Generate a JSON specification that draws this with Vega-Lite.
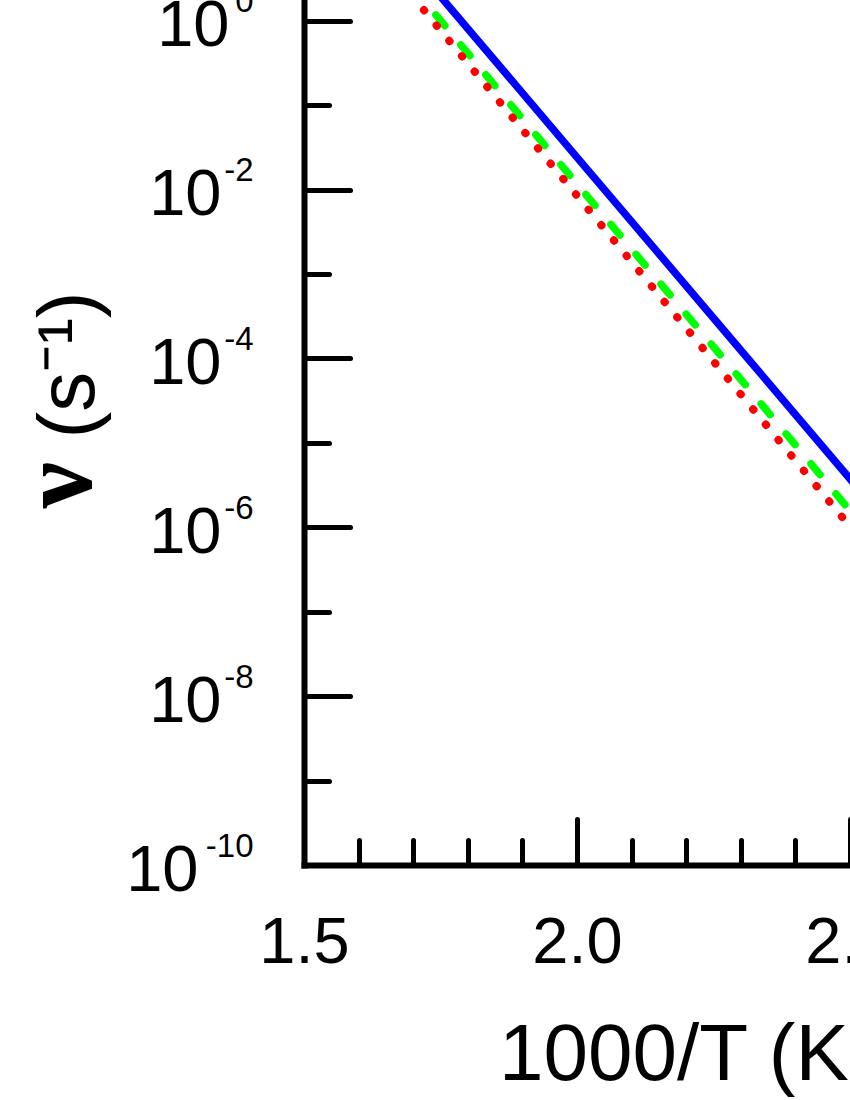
{
  "$schema": "https://vega.github.io/schema/vega-lite/v6.json",
  "usermeta": {"embedOptions": {"actions": false}},
  "autosize": {"type": "none"},
  "width": 819,
  "height": 865,
  "padding": {"left": 304, "right": -273, "top": 0, "bottom": 235},
  "background": "white",
  "config": {"view": {"stroke": null}, "axis": {"grid": false}},
  "datasets": {
    "solid": [
      {"x": 1.65, "nu": 11.17},
      {"x": 2.0, "nu": 0.0241},
      {"x": 2.3, "nu": 0.000125},
      {"x": 2.6, "nu": 6.49e-7}
    ],
    "dashed": [
      {"x": 1.65, "nu": 5.985},
      {"x": 2.0, "nu": 0.01164},
      {"x": 2.3, "nu": 0.0000565},
      {"x": 2.6, "nu": 2.62e-7}
    ],
    "dotted": [
      {"x": 1.65, "nu": 4.688},
      {"x": 2.0, "nu": 0.00847},
      {"x": 2.3, "nu": 0.0000375},
      {"x": 2.6, "nu": 1.68e-7}
    ]
  },
  "layer": [
    {
      "data": {"name": "solid"},
      "mark": {"type": "line", "color": "#0000FF", "strokeWidth": 7.5, "clip": true},
      "encoding": {
        "x": {
          "field": "x", "type": "quantitative",
          "scale": {"domain": [1.5, 3.0], "nice": false, "zero": false},
          "axis": {
            "orient": "bottom",
            "values": [1.5, 2.0, 2.5, 3.0],
            "format": ".1f",
            "tickSize": -46, "tickWidth": 5, "tickColor": "black", "tickCap": "round",
            "domainWidth": 6, "domainColor": "black", "domainCap": "square",
            "labelFont": "Liberation Sans", "labelFontSize": 65, "labelColor": "black",
            "labelPadding": 92, "labelFlush": false, "labelOverlap": false, "labelBound": false,
            "title": "1000/T (K\u207b\u00b9)", "titleFont": "Liberation Sans", "titleFontSize": 80,
            "titleFontWeight": "normal", "titleColor": "black", "titlePadding": 41
          }
        },
        "y": {
          "field": "nu", "type": "quantitative",
          "scale": {"type": "log", "domain": [1e-10, 1.7587], "nice": false},
          "axis": {
            "orient": "left",
            "values": [1, 0.01, 0.0001, 0.000001, 0.00000001, 0.0000000001],
            "labelExpr": "'10'",
            "tickSize": -46, "tickWidth": 5, "tickColor": "black", "tickCap": "round",
            "domainWidth": 6, "domainColor": "black", "domainCap": "square",
            "labelFont": "Liberation Sans", "labelFontSize": 65, "labelColor": "black",
            "labelBaseline": "middle", "labelAlign": "right", "labelOffset": 5,
            "labelPadding": {"condition": [{"test": "datum.value < 1e-9", "value": 152}, {"test": "datum.value > 0.5", "value": 121}], "value": 129},
            "labelFlush": false, "labelOverlap": false, "labelBound": false,
            "title": "\u200b\u2003\u2002\u2009(s\u207b\u00b9)", "titleFont": "Liberation Sans", "titleFontSize": 80,
            "titleFontWeight": "normal", "titleColor": "black", "titlePadding": 15
          }
        }
      }
    },
    {
      "data": {"name": "dashed"},
      "mark": {"type": "line", "color": "#00FF00", "strokeWidth": 7.5, "strokeDash": [14, 25], "strokeCap": "round", "clip": true},
      "encoding": {
        "x": {
          "field": "x", "type": "quantitative",
          "scale": {"domain": [1.5, 3.0], "nice": false, "zero": false},
          "axis": {
            "orient": "bottom",
            "values": [1.6, 1.7, 1.8, 1.9, 2.1, 2.2, 2.3, 2.4, 2.6, 2.7, 2.8, 2.9],
            "tickSize": -25, "tickWidth": 5, "tickColor": "black", "tickCap": "round",
            "labels": false, "domain": false, "title": null
          }
        },
        "y": {
          "field": "nu", "type": "quantitative",
          "scale": {"type": "log", "domain": [1e-10, 1.7587], "nice": false},
          "axis": {
            "orient": "left",
            "values": [0.1, 0.001, 0.00001, 0.0000001, 0.000000001],
            "tickSize": -25, "tickWidth": 5, "tickColor": "black", "tickCap": "round",
            "labels": false, "domain": false,
            "title": "\u03bd\u2003\u200b", "titleFont": "Liberation Serif", "titleFontSize": 104,
            "titleFontWeight": "bold", "titleColor": "black", "titlePadding": 189
          }
        }
      }
    },
    {
      "data": {"name": "dotted"},
      "mark": {"type": "line", "color": "#FF0000", "strokeWidth": 8, "strokeDash": [0.5, 19.4], "strokeCap": "round", "clip": true},
      "encoding": {
        "x": {
          "field": "x", "type": "quantitative",
          "scale": {"domain": [1.5, 3.0], "nice": false, "zero": false},
          "axis": null
        },
        "y": {
          "field": "nu", "type": "quantitative",
          "scale": {"type": "log", "domain": [1e-10, 1.7587], "nice": false},
          "axis": {
            "orient": "left",
            "values": [1, 0.01, 0.0001, 0.000001, 0.00000001, 0.0000000001],
            "labelExpr": "'' + round(log(datum.value) / LN10)",
            "ticks": false, "domain": false,
            "labelFont": "Liberation Sans", "labelFontSize": 33, "labelColor": "black",
            "labelBaseline": "middle", "labelAlign": "right", "labelOffset": -19,
            "labelPadding": 51, "labelFlush": false, "labelOverlap": false, "labelBound": false,
            "title": null
          }
        }
      }
    }
  ],
  "resolve": {"axis": {"x": "independent", "y": "independent"}}
}
